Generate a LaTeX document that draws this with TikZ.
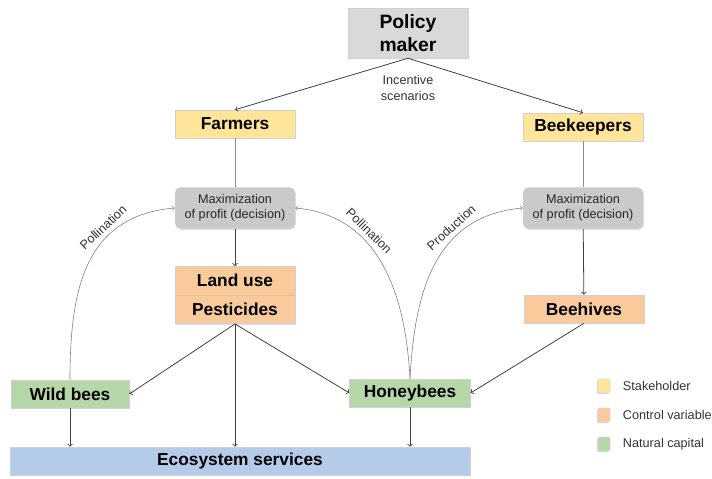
\documentclass[tikz,border=0pt]{standalone}
\usepackage{fontspec}
\setmainfont{Liberation Sans}
\usetikzlibrary{shadows}

\definecolor{stake}{HTML}{FFE599}
\definecolor{ctrl}{HTML}{F9CB9C}
\definecolor{natcap}{HTML}{B6D7A8}
\definecolor{ecoblue}{HTML}{B4CCEA}
\definecolor{policy}{HTML}{D9D9D9}
\definecolor{decis}{HTML}{CACACA}

\begin{document}
\begin{tikzpicture}[x=0.75pt,y=-0.75pt,
   box/.style={draw=black!18, fill=#1, minimum width=90pt, minimum height=21pt, inner sep=1pt,
     font=\fontsize{13}{16}\selectfont\bfseries, align=center,
     drop shadow={shadow xshift=0.7pt, shadow yshift=-0.9pt, opacity=0.25}},
   decision/.style={box=decis, rounded corners=4pt, draw=none, minimum height=31pt,
     font=\fontsize{9.5}{11.5}\selectfont, text=black!85},
   arr/.style={->, draw=black!75, line width=0.6pt},
   link/.style={draw=black!45, line width=0.5pt},
   fbcurve/.style={->, draw=black!50, line width=0.45pt},
   lbl/.style={font=\fontsize{9.5}{11.5}\selectfont, text=black!80}]
   \useasboundingbox (0,0) rectangle (712,478);
   % stakeholders
   \node[box=policy, minimum height=37.5pt, font=\fontsize{14.5}{17}\selectfont\bfseries] (pm) at (408,33) {Policy\\maker};
   \node[box=stake] (farm) at (235,124) {Farmers};
   \node[box=stake] (keep) at (583,127) {Beekeepers};
   % decisions
   \node[decision] (maxf) at (235,208) {Maximization\\of profit (decision)};
   \node[decision] (maxk) at (583,208) {Maximization\\of profit (decision)};
   % control variables
   \node[box=ctrl, minimum height=43pt, font=\fontsize{13}{21.5}\selectfont\bfseries] (land) at (235,295) {Land use\\Pesticides};
   \draw[ctrl!85!black, opacity=0.4] (land.west) -- (land.east);
   \node[box=ctrl] (hives) at (584,309) {Beehives};
   % natural capital
   \node[box=natcap, minimum width=88.5pt] (wild) at (70,394) {Wild bees};
   \node[box=natcap, minimum width=90.5pt] (honey) at (410,393) {Honeybees};
   \node[box=ecoblue, minimum width=345pt] (eco) at (240,461) {Ecosystem services};

   \draw[arr] (pm.south) -- (farm.north);
   \draw[arr] (pm.south) -- (keep.north);
   \node[lbl, align=center] (inc) at (408,88) {Incentive\\scenarios};
   \draw[link] (farm) -- (maxf);
   \draw[link] (keep) -- (maxk);
   \draw[arr] (maxf) -- (land);
   \draw[arr] (maxk) -- (hives);
   \draw[arr] (land.south) -- (wild.east);
   \draw[arr] (land.south) -- (honey.west);
   \draw[arr] (land.south) -- (land.south |- eco.north);
   \draw[arr] (hives.south) -- (honey.east);
   \draw[arr] (wild.south) -- (wild.south |- eco.north);
   \draw[arr] (honey.south) -- (honey.south |- eco.north);
   % feedback curves
   \draw[fbcurve] (wild.north) to[out=90, in=185, looseness=1.15] node[lbl, pos=0.68, above, sloped] {Pollination} (maxf.west);
   \draw[fbcurve] (honey.north) to[out=93, in=-5, looseness=1.05] node[lbl, pos=0.66, above, sloped] {Pollination} (maxf.east);
   \draw[fbcurve] (honey.north) to[out=87, in=185, looseness=1.1] node[lbl, pos=0.68, above, sloped] {Production} (maxk.west);

   \foreach \c/\t [count=\i] in {stake/Stakeholder, ctrl/Control variable, natcap/Natural capital} % legend
     \node[fill=\c, draw=black!15, minimum width=9pt, minimum height=10.5pt, inner sep=0pt, rounded corners=1pt,
       drop shadow={shadow xshift=-0.8pt, shadow yshift=-0.8pt, opacity=0.3},
       label={[lbl, label distance=6pt]east:\t}] (key\i) at (604,357+29*\i) {};
\end{tikzpicture}
\end{document}
